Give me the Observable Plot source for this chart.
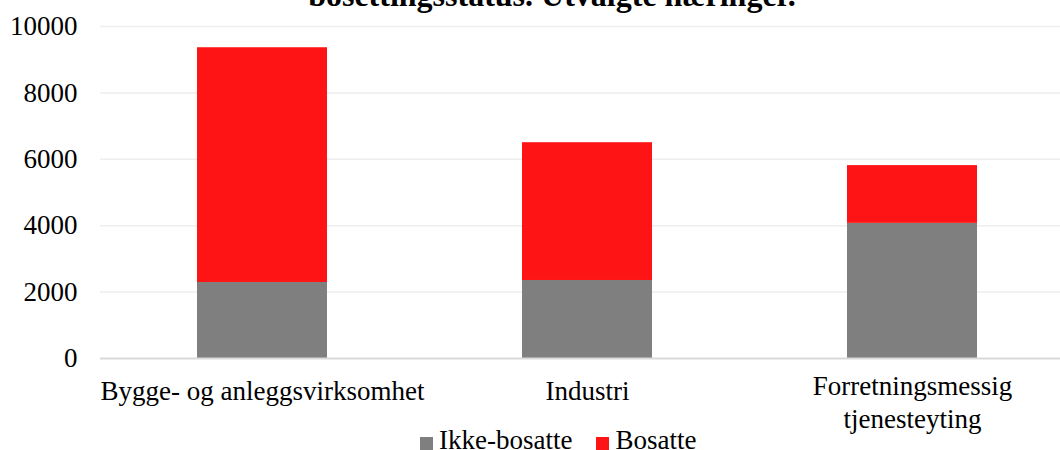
<!DOCTYPE html>
<html>
<head>
<meta charset="utf-8">
<script src="https://cdn.jsdelivr.net/npm/d3@7"></script>
<script src="https://cdn.jsdelivr.net/npm/@observablehq/plot@0.6"></script>
<style>
  html, body { margin: 0; padding: 0; background: #fff; overflow: hidden; }
  #wrap { position: relative; width: 1060px; height: 450px; font-family: "Liberation Serif", "Times New Roman", serif; }
  #title { position: absolute; z-index: 2; left: 0; width: 1104px; top: -21px; text-align: center; font-weight: bold; font-size: 32px; line-height: 32px; white-space: nowrap; color: #000; }
  #chart { position: absolute; z-index: 1; left: 0; top: 0; }
  #legend { position: absolute; z-index: 2; top: 430px; left: 420px; font-size: 27px; line-height: 20px; white-space: nowrap; color: #000; }
  #legend span.sw { display: inline-block; width: 13px; height: 13px; margin-right: 6px; vertical-align: -1px; }
  #legend span.item { margin-right: 24px; }
</style>
</head>
<body>
<div id="wrap">
  <div id="title">bosettingsstatus. Utvalgte næringer.</div>
  <div id="chart"></div>
  <div id="legend"></div>
</div>
<script>
const categories = ["Bygge- og anleggsvirksomhet", "Industri", "Forretningsmessig tjenesteyting"];
const categoryLabels = ["Bygge- og anleggsvirksomhet", "Industri", "Forretningsmessig\ntjenesteyting"];
const seriesNames = ["Ikke-bosatte", "Bosatte"];
const ikkeBosatte = [2290, 2350, 4070];
const bosatte = [7070, 4150, 1740];
const yTicks = [0, 2000, 4000, 6000, 8000, 10000];
const colors = ["#7f7f7f", "#fe1414"];

const rows = [];
categories.forEach((c, i) => {
  rows.push({cat: c, series: seriesNames[0], value: ikkeBosatte[i]});
  rows.push({cat: c, series: seriesNames[1], value: bosatte[i]});
});
const labelOf = new Map(categories.map((c, i) => [c, categoryLabels[i]]));
const single = categories.filter(c => !labelOf.get(c).includes("\n"));
const multi = categories.filter(c => labelOf.get(c).includes("\n"));

const chart = Plot.plot({
  width: 1060,
  height: 450,
  marginTop: 26,
  marginBottom: 92,
  marginLeft: 100,
  marginRight: 0,
  style: {fontFamily: "'Liberation Serif', 'Times New Roman', serif", fontSize: "27px", color: "#000", background: "transparent"},
  x: {domain: categories, range: [99.5, 1074.5], paddingInner: 0.6, paddingOuter: 0.3, axis: null},
  y: {domain: [0, 10000], axis: null},
  color: {domain: seriesNames, range: colors},
  marks: [
    Plot.ruleY(yTicks.filter(d => d > 0), {stroke: "#eeeeee", strokeWidth: 1.5}),
    Plot.barY(rows, Plot.stackY({x: "cat", y: "value", fill: "series", order: seriesNames})),
    Plot.ruleY([0], {stroke: "#d9d9d9", strokeWidth: 2}),
    Plot.axisY({ticks: yTicks, tickSize: 0, tickPadding: 23, anchor: "left", label: null, fontSize: 27, tickFormat: d => String(d)}),
    Plot.text(single, {x: d => d, frameAnchor: "bottom", lineAnchor: "top", dy: 22, text: d => labelOf.get(d), fontSize: 27, fill: "#000"}),
    Plot.text(multi, {x: d => d, frameAnchor: "bottom", lineAnchor: "top", dy: 13.5, lineHeight: 1.22, text: d => labelOf.get(d), fontSize: 27, fill: "#000"})
  ]
});
document.getElementById("chart").appendChild(chart);

const legend = document.getElementById("legend");
seriesNames.forEach((s, i) => {
  const item = document.createElement("span");
  item.className = "item";
  const sw = document.createElement("span");
  sw.className = "sw";
  sw.style.background = colors[i];
  item.appendChild(sw);
  item.appendChild(document.createTextNode(s));
  legend.appendChild(item);
});
</script>
</body>
</html>
